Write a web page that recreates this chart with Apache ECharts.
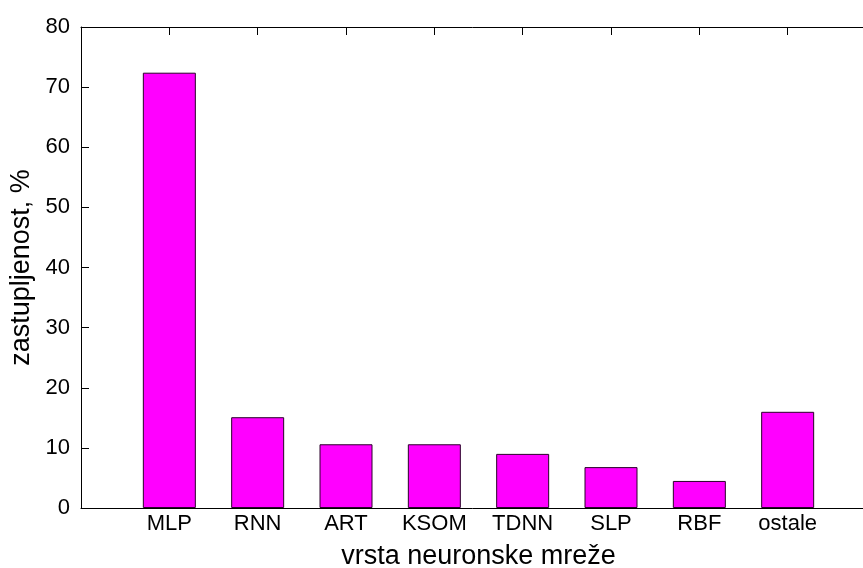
<!DOCTYPE html>
<html>
<head>
<meta charset="utf-8">
<script src="https://cdn.jsdelivr.net/npm/echarts@6/dist/echarts.min.js"></script>
<style>
html,body{margin:0;padding:0;background:#fff;}
#chart{width:863px;height:568px;}
</style>
</head>
<body>
<div id="chart"></div>
<script>
const categories = ['MLP', 'RNN', 'ART', 'KSOM', 'TDNN', 'SLP', 'RBF', 'ostale'];
const values = [72.4, 15.1, 10.6, 10.6, 9.0, 6.8, 4.5, 16.0];
const yTicks = [0, 10, 20, 30, 40, 50, 60, 70, 80];
const xTitle = 'vrsta neuronske mreže';
const yTitle = 'zastupljenost, %';

const font = 'Liberation Sans, Arial, sans-serif';
const chart = echarts.init(document.getElementById('chart'));
const axisLine = {show: true, lineStyle: {color: '#000', width: 1}};
// the original axes run from 0 to 9 but are cut off by the right edge of the picture
chart.setOption({
  animation: false,
  backgroundColor: '#fff',
  grid: {left: 81, top: 27, width: 795, height: 481, containLabel: false, outerBoundsMode: 'none'},
  xAxis: [{
    type: 'value', position: 'bottom', min: 0, max: categories.length + 1, interval: 1,
    axisLine: axisLine,
    axisTick: {show: true, inside: true, length: 8, lineStyle: {color: '#000'}},
    splitLine: {show: false},
    axisLabel: {
      fontFamily: font, fontSize: 22, color: '#000', margin: 5,
      formatter: v => (v >= 1 && v <= categories.length) ? categories[v - 1] : ''
    },
    name: xTitle, nameLocation: 'middle', nameGap: 35,
    nameTextStyle: {fontFamily: font, fontSize: 27, color: '#000'}
  }, {
    type: 'value', position: 'top', min: 0, max: categories.length + 1, interval: 1,
    axisLine: axisLine,
    axisTick: {show: true, inside: true, length: 8, lineStyle: {color: '#000'}},
    splitLine: {show: false},
    axisLabel: {show: false}
  }],
  yAxis: [{
    type: 'value', min: yTicks[0], max: yTicks[yTicks.length - 1], interval: yTicks[1] - yTicks[0],
    axisLine: axisLine,
    axisTick: {show: true, inside: true, length: 8, lineStyle: {color: '#000'}},
    splitLine: {show: false},
    axisLabel: {fontFamily: font, fontSize: 22, color: '#000', margin: 11},
    name: yTitle, nameLocation: 'middle', nameGap: 45,
    nameTextStyle: {fontFamily: font, fontSize: 27, color: '#000'}
  }],
  series: [{
    type: 'bar',
    xAxisIndex: 0, yAxisIndex: 0,
    barWidth: 53,
    data: categories.map((c, i) => [i + 1, values[i]]),
    itemStyle: {color: '#ff00ff', borderColor: '#2a002a', borderWidth: 1}
  }]
});
</script>
</body>
</html>
